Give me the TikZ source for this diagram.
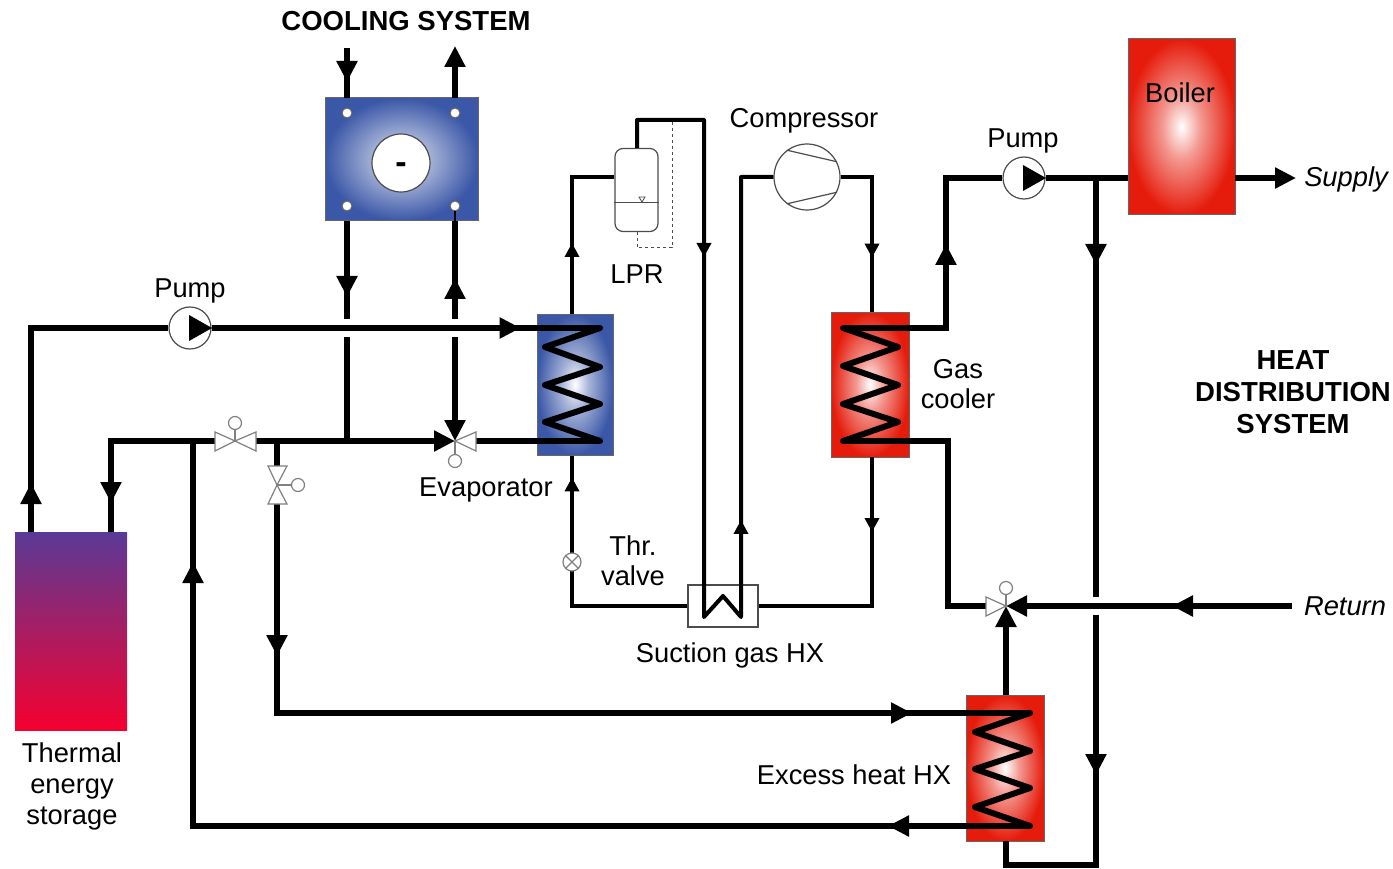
\documentclass[tikz,border=0pt]{standalone}
\usepackage{fontspec}
\setmainfont{Liberation Sans}
\usepackage{xcolor}
\usetikzlibrary{arrows.meta, decorations.markings}

\definecolor{hxblue}{HTML}{3B57A7}
\definecolor{hxred}{HTML}{E51C0C}
\definecolor{stotop}{HTML}{5A3A96}
\definecolor{stobot}{HTML}{F5002F}
\colorlet{hxbluemid}{hxblue!45!white}
\colorlet{hxredmid}{hxred!45!white}

\pgfdeclareradialshading{glowblue}{\pgfpointorigin}{color(0bp)=(white); color(9bp)=(hxbluemid); color(25bp)=(hxblue); color(50bp)=(hxblue)}
\pgfdeclareradialshading{glowred}{\pgfpointorigin}{color(0bp)=(white); color(9bp)=(hxredmid); color(25bp)=(hxred); color(50bp)=(hxred)}

\tikzset{
  txt/.style={font=\fontsize{27.3}{30}\selectfont, align=center, inner sep=0pt},
  txtbold/.style={font=\fontsize{27.5}{32}\selectfont\bfseries, align=center, inner sep=0pt},
  pipe/.style={line width=6pt},
  pipethin/.style={line width=4pt},
  coil/.style={line width=6pt, line cap=round, line join=round},
  tipbig/.style={-{Triangle[length=21pt,width=20pt]}},
  flow/.style={postaction={decorate, decoration={markings,
      mark=at position #1 with {\arrow{Triangle[length=21pt,width=20pt]}}}}},
  flowthin/.style={postaction={decorate, decoration={markings,
      mark=at position #1 with {\arrow{Triangle[length=14pt,width=14pt]}}}}},
  bluebox/.style={draw=black!60, line width=1pt, shading=glowblue, inner sep=0pt},
  redbox/.style={draw=black!60, line width=1pt, shading=glowred, inner sep=0pt},
  symb/.style={draw=black!70, line width=1.2pt, fill=white},
  valve/.style={draw=black!50, line width=1.2pt, fill=white},
  knob/.style={circle, draw=black!50, line width=1.2pt, fill=white, minimum size=13pt, inner sep=0pt},
  pump/.style={circle, symb, minimum size=42pt, inner sep=0pt},
  port/.style={circle, draw=black!60, line width=1pt, fill=white, minimum size=10pt, inner sep=0pt},
}

\begin{document}
\begin{tikzpicture}[x=1pt, y=-1pt]
\useasboundingbox (0,0) rectangle (1393,869);

% components
\node[bluebox, minimum width=153pt, minimum height=123pt] (cooler) at (401.5,159.5) {};
\node[bluebox, minimum width=76pt, minimum height=141pt] (evap) at (575,384.5) {};
\node[redbox, minimum width=78pt, minimum height=145pt] (gascool) at (870,384.5) {};
\node[redbox, minimum width=78pt, minimum height=146pt] (excess) at (1005,768) {};
\node[redbox, minimum width=107pt, minimum height=176pt] (boiler) at (1181.5,127) {};
\node[top color=stotop, bottom color=stobot, minimum width=112pt, minimum height=198pt, inner sep=0pt] (storage) at (71,631) {};
\node[symb, rounded corners=8pt, minimum width=43pt, minimum height=83pt, inner sep=0pt] (lpr) at (636.5,190) {};
\node[symb, minimum width=70pt, minimum height=42pt, inner sep=0pt] (suction) at (723,606) {};
\node[pump] (pumpa) at (190,328) {};
\node[pump] (pumpb) at (1024,178) {};
\node[circle, symb, minimum size=66pt, inner sep=0pt] (comp) at (807,177) {};
\node[circle, symb, minimum size=58pt, inner sep=0pt] (coolc) at (401,163) {};

% cooler ports
\node[port] (porta) at (347,113) {};
\node[port] (portb) at (455,113) {};
\node[port] (portc) at (347,206) {};
\node[port] (portd) at (455,206) {};
\draw[line width=1.5pt] (portd) -- (portd |- cooler.south);

% valves and pipe corners
\coordinate (vala) at (235,441);
\coordinate (valal) at (215,441);
\coordinate (valar) at (256,441);
\coordinate (valb) at (277,485);
\coordinate (valbt) at (277,466);
\coordinate (valbb) at (277,504);
\coordinate (valc) at (455,441);
\coordinate (valcr) at (476,441);
\coordinate (vald) at (1006,606);
\coordinate (valdl) at (986,606);
\coordinate (juna) at (193,441);
\coordinate (junb) at (277,441);
\coordinate (junc) at (347,441);
\coordinate (jund) at (1096,178);
\coordinate (boilin) at (1128,178);
\coordinate (boilout) at (1235,178);
\coordinate (evapin) at (600,328);
\coordinate (evapout) at (600,441);
\coordinate (gasin) at (843,328);
\coordinate (gasout) at (843,441);
\coordinate (excin) at (1030,713);
\coordinate (excout) at (1030,826);

% storage loop
\draw[pipe, flow=49pt] (31,532) -- (31,328) -- (pumpa.west);
\draw[pipe, flow=309pt] (pumpa.east) -- (evapin);
\draw[pipe, flow=166pt] (valal) -- (111,441) -- (111,532);
\draw[pipe, tipbig] (valar) -- (valc);
\draw[pipe] (valcr) -- (evapout);
\draw[pipe, flow=142pt, flow=1101pt] (excout) -- (193,826) -- (juna);
\draw[pipe] (junb) -- (valbt);
\draw[pipe, flow=152pt, flow=844pt] (valbb) -- (277,713) -- (excin);

% cooling system
\draw[pipe, flow=34pt] (347,48) -- (347,98);
\draw[pipe, tipbig] (455,98) -- (455,46);
\draw[pipe, flow=76pt] (347,221) -- (347,319);
\draw[pipe] (347,337) -- (junc);
\draw[pipe, flow=41pt] (455,319) -- (455,221);
\draw[pipe, tipbig] (455,337) -- (valc);

% heat distribution
\draw[pipe, flow=187pt] (gasin) -- (946,328) -- (946,178) -- (pumpb.west);
\draw[pipe] (pumpb.east) -- (boilin);
\draw[pipe, tipbig] (boilout) -- (1296,178);
\draw[pipe, flow=87pt] (jund) -- (1096,597);
\draw[pipe, flow=160pt] (1096,615) -- (1096,865) -- (1006,865) -- (1006,841);
\draw[pipe] (gasout) -- (948,441) -- (948,606) -- (valdl);
\draw[pipe, tipbig, flow=120pt] (1292,606) -- (vald);
\draw[pipe, tipbig] (1006,695) -- (vald);

% refrigerant
\draw[pipethin, flowthin=71pt] (572,314) -- (572,177) -- (lpr.west |- 0,177);
\draw[pipethin, line join=round, flowthin=232pt, flowthin=745pt] (637,148) -- (637,120) -- (704,120) -- (704,617) -- (723,596) -- (741,617) -- (741,177) -- (comp.west);
\draw[pipethin, flowthin=112pt] (comp.east) -- (872,177) -- (872,312);
\draw[pipethin, flowthin=75pt] (872,457) -- (872,606) -- (suction.east);
\draw[pipethin, flowthin=244pt] (suction.west) -- (572,606) -- (572,456);
\draw[dashed, line width=1pt, black!70] (672,122) -- (672,248) -- (637,248) -- (637,231);

% coils
\draw[coil] (evapin) -- (545,347) -- (600,367) -- (545,385) -- (600,404) -- (545,422) -- (evapout);
\draw[coil] (gasin) -- (898,347) -- (843,366) -- (898,385) -- (843,404) -- (898,422) -- (gasout);
\draw[coil] (excin) -- (975,732) -- (1030,751) -- (975,769) -- (1030,788) -- (975,807) -- (excout);

% valve symbols
\draw[valve] (vala) -- (215,432) -- (215,451) -- cycle;
\draw[valve] (vala) -- (256,432) -- (256,451) -- cycle;
\draw[valve] (valb) -- (268,466) -- (287,466) -- cycle;
\draw[valve] (valb) -- (268,504) -- (287,504) -- cycle;
\draw[valve] (valc) -- (476,432) -- (476,451) -- cycle;
\draw[valve] (vald) -- (986,597) -- (986,616) -- cycle;
\node[knob] (knoba) at (235,423) {};
\node[knob] (knobb) at (298,485) {};
\node[knob] (knobc) at (455,461) {};
\node[knob] (knobd) at (1006,588) {};
\draw[black!50, line width=1.2pt] (vala) -- (knoba);
\draw[black!50, line width=1.2pt] (valb) -- (knobb);
\draw[black!50, line width=1.2pt] (valc) -- (knobc);
\draw[black!50, line width=1.2pt] (vald) -- (knobd);

% symbol details
\node[circle, valve, minimum size=18pt, inner sep=0pt] (thr) at (572,562) {};
\fill (189,315) -- (212,328) -- (189,341) -- cycle;
\fill (1023,165) -- (1046,178) -- (1023,191) -- cycle;
\draw[black!70, line width=1.2pt] (comp.127) -- (comp.27);
\draw[black!70, line width=1.2pt] (comp.-127) -- (comp.-27);
\draw[black!50, line width=1.2pt] (thr.45) -- (thr.225);
\draw[black!50, line width=1.2pt] (thr.135) -- (thr.-45);
\draw[black!70, line width=1pt] (lpr.west |- 0,203) -- (lpr.east |- 0,203);
\draw[black!70, line width=.8pt] (639,197) -- (645,197) -- (642,202) -- cycle;

% labels
\node[txtbold] (lcool) at (406,21) {COOLING SYSTEM};
\node[txtbold] (lheat) at (1293,392) {HEAT\\DISTRIBUTION\\SYSTEM};
\node[font=\fontsize{34}{34}\selectfont\bfseries, inner sep=0pt] (lminus) at (401,168) {-};
\node[txt] (lpumpa) at (190,291) {Pump};
\node[txt] (lpumpb) at (1023,140.5) {Pump};
\node[txt] (lcomp) at (804,120.5) {Compressor};
\node[txt] (lboil) at (1180,93) {Boiler};
\node[txt] (llpr) at (637,274) {LPR};
\node[txt] (lgas) at (958,384) {Gas\\cooler};
\node[txt] (levap) at (486,489.5) {Evaporator};
\node[txt] (lthr) at (633,561) {Thr.\\valve};
\node[txt] (lsuc) at (730,655) {Suction gas HX};
\node[txt] (lexc) at (854,775) {Excess heat HX};
\node[txt, font=\fontsize{27.3}{31}\selectfont] (lsto) at (72,786) {Thermal\\energy\\storage};
\node[txt, font=\fontsize{27.3}{30}\selectfont\itshape] (lsup) at (1346,179.5) {Supply};
\node[txt, font=\fontsize{27.3}{30}\selectfont\itshape] (lret) at (1345,606) {Return};
\end{tikzpicture}
\end{document}
